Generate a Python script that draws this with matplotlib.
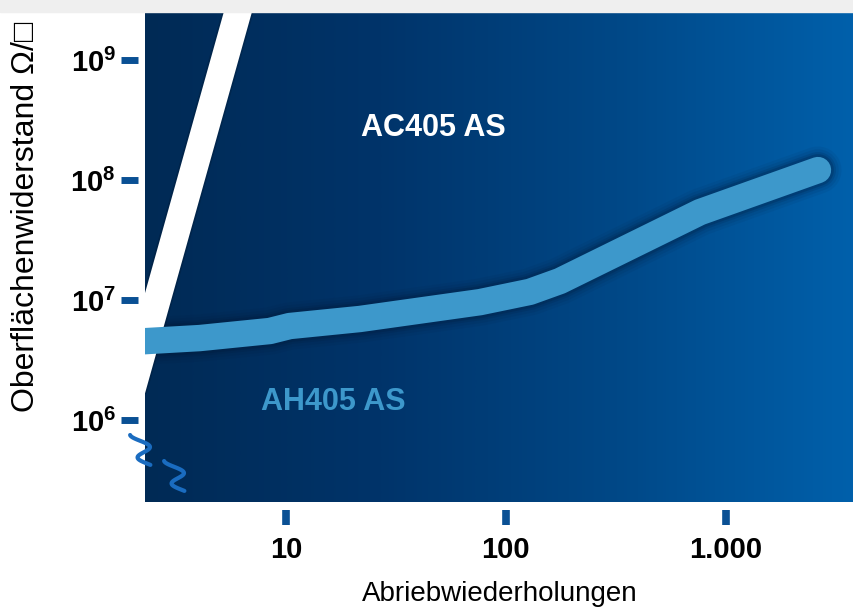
import numpy as np
import matplotlib
matplotlib.use("Agg")
import matplotlib.pyplot as plt
from matplotlib.colors import LinearSegmentedColormap
from matplotlib.patches import Rectangle
from matplotlib import font_manager

# data
ah_x = [2.1, 4.06, 8.46, 10.4, 21.7, 76.2, 128.5, 176, 762, 2620]
ah_y = [4.5e6, 4.82e6, 5.52e6, 6.07e6, 6.95e6, 9.6e6, 1.17e7, 1.44e7, 5.4e7, 1.21e8]
ac_x = [2.0, 7.0]
ac_y = [1.8e6, 6.5e9]
x_ticks = [10, 100, 1000]
x_ticklabels = ['10', '100', '1.000']
y_ticks = [1e6, 1e7, 1e8, 1e9]
y_ticklabels = [r'$\mathbf{10^6}$', r'$\mathbf{10^7}$', r'$\mathbf{10^8}$', r'$\mathbf{10^9}$']

names = [f.name for f in font_manager.fontManager.ttflist]
narrow = 'Liberation Sans Narrow' if 'Liberation Sans Narrow' in names else 'Liberation Sans'
plt.rcParams['font.family'] = [narrow, 'DejaVu Sans']
plt.rcParams['mathtext.fontset'] = 'custom'
plt.rcParams['mathtext.bf'] = narrow + ':bold'
plt.rcParams['mathtext.rm'] = narrow

W, H = 854, 608
fig = plt.figure(figsize=(W / 100, H / 100), dpi=100)
fig.patches.append(Rectangle((0, 1 - 12 / H), 1, 12 / H, transform=fig.transFigure,
                             color='#efefef', zorder=0))

ax = fig.add_axes([145 / W, 1 - 502 / H, (854 - 145) / W, (502 - 12) / H])
ax.set_xscale('log')
ax.set_yscale('log')
ax.set_xlim(2.29, 3820)
ax.set_ylim(10 ** 5.317, 10 ** 9.4)

# background gradient
cmap = LinearSegmentedColormap.from_list('bg', ['#002a55', '#00346a', '#004887', '#0060ab'])
grad = np.linspace(0, 1, 512).reshape(1, -1)
ax.imshow(grad, aspect='auto', cmap=cmap, extent=[0, 1, 0, 1], transform=ax.transAxes, zorder=0)

# AC405 AS (white)
ax.plot(ac_x, ac_y, color='black', lw=22, alpha=0.15, solid_capstyle='butt', zorder=2)
ax.plot(ac_x, ac_y, color='white', lw=19.5, solid_capstyle='butt', zorder=3)

# AH405 AS (light blue) with soft shadow
for lw, a in [(34, 0.06), (30, 0.08), (26, 0.12), (23, 0.18)]:
    ax.plot(ah_x, ah_y, color='#001530', lw=lw, alpha=a, solid_capstyle='round',
            solid_joinstyle='round', zorder=2)
ax.plot(ah_x, ah_y, color='#3d98cb', lw=19, solid_capstyle='round',
        solid_joinstyle='round', zorder=3)

ax.text(46.6, 2.7e8, 'AC405 AS', color='white', fontsize=22, fontweight='bold',
        ha='center', va='center', zorder=4)
ax.text(16.5, 1.41e6, 'AH405 AS', color='#3d98cb', fontsize=22, fontweight='bold',
        ha='center', va='center', zorder=4)


# axis break marks (drawn in pixel space of the figure)
def squiggle(cx, top):
    t = np.linspace(-np.pi / 2, 2.1 * np.pi, 60)
    px = cx + 8 * np.sin(t) + 1.2 * t
    py = top + 11.5 * (t + np.pi / 2) / np.pi
    fig.add_artist(plt.Line2D(px / W, 1 - py / H, transform=fig.transFigure,
                              color='#1a6cc0', lw=3, solid_capstyle='round', zorder=6))


squiggle(140, 435)
squiggle(174, 461)

for s in ax.spines.values():
    s.set_visible(False)
ax.spines['left'].set_position(('outward', 5))
ax.spines['bottom'].set_position(('outward', 6))

ax.set_xticks(x_ticks)
ax.set_xticklabels(x_ticklabels)
ax.set_yticks(y_ticks)
ax.set_yticklabels(y_ticklabels)
ax.minorticks_off()
ax.tick_params(axis='y', length=12, width=5, color='#0a5094', labelsize=21, pad=4)
ax.tick_params(axis='x', length=10.5, width=5.5, color='#0a5094', labelsize=21, pad=8)
for lab in ax.get_xticklabels():
    lab.set_fontweight('bold')

ax.set_xlabel('Abriebwiederholungen', fontsize=20, labelpad=12)
ax.set_ylabel('Oberflächenwiderstand Ω/□', fontsize=23, family=[narrow, 'DejaVu Sans'])
ax.yaxis.set_label_coords(-0.147, 0.582)

fig.savefig('out.png', dpi=100)
